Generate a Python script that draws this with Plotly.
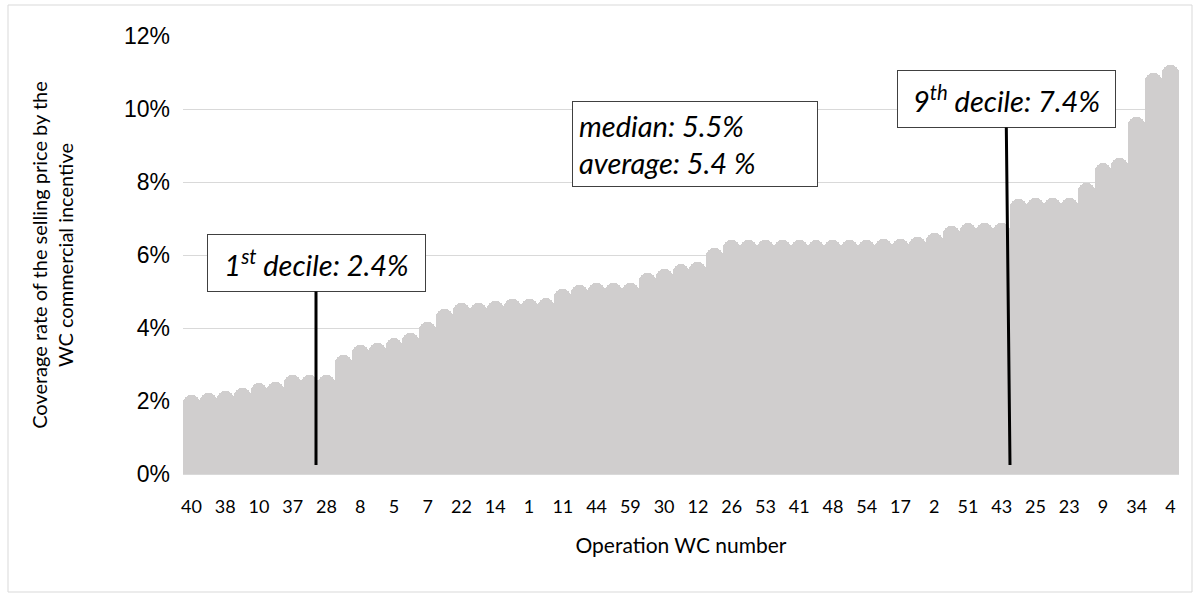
import plotly.graph_objects as go

# Coverage rate per operation (sorted ascending), in %
values_pct = [2.16, 2.23, 2.28, 2.35, 2.50, 2.53, 2.71, 2.71, 2.71, 3.26,
              3.53, 3.58, 3.72, 3.85, 4.17, 4.51, 4.69, 4.69, 4.75, 4.79,
              4.80, 4.82, 5.07, 5.18, 5.24, 5.24, 5.23, 5.52, 5.63, 5.74,
              5.82, 6.18, 6.40, 6.40, 6.40, 6.40, 6.40, 6.41, 6.41, 6.41,
              6.41, 6.43, 6.45, 6.48, 6.61, 6.79, 6.87, 6.87, 6.88, 7.53,
              7.55, 7.55, 7.55, 7.96, 8.51, 8.65, 9.79, 11.0, 11.2]
values = [v / 100 for v in values_pct]
positions = list(range(len(values)))

# Shown x tick labels (every second operation)
tick_labels = ["40", "38", "10", "37", "28", "8", "5", "7", "22", "14",
               "1", "11", "44", "59", "30", "12", "26", "53", "41", "48",
               "54", "17", "2", "51", "43", "25", "23", "9", "34", "4"]
tick_positions = positions[::2]

y_ticks = [0, 0.02, 0.04, 0.06, 0.08, 0.10, 0.12]

FONT = "Lato"
fig = go.Figure()
fig.add_trace(go.Bar(
    x=positions, y=values,
    marker=dict(color="#D0CECE", line=dict(width=0), cornerradius=8),
    showlegend=False, hoverinfo="skip",
))

L, R, T, B = 183, 1179, 36, 474
W, H = 1200, 597

fig.update_layout(
    width=W, height=H,
    margin=dict(l=L, r=W - R, t=T, b=H - B),
    paper_bgcolor="white", plot_bgcolor="white",
    bargap=0,
    font=dict(family=FONT, color="#000000"),
    xaxis=dict(
        range=[-0.5, len(values) - 0.5],
        tickmode="array", tickvals=tick_positions, ticktext=tick_labels,
        tickfont=dict(family=FONT, size=18, color="#000000"),
        ticks="", showgrid=False, zeroline=False,
        showline=True, linecolor="#D9D9D9", linewidth=1,
        ticklabelstandoff=16,
        title=dict(text="Operation WC number", font=dict(family=FONT, size=21, color="#000000"), standoff=22),
    ),
    yaxis=dict(
        range=[0, 0.12], tickmode="array", tickvals=y_ticks,
        tickformat=".0%",
        tickfont=dict(family="Liberation Sans", size=23, color="#000000"),
        showgrid=True, gridcolor="#D9D9D9", gridwidth=1,
        zeroline=False, showline=False, ticks="",
        ticklabelstandoff=12,
        title=dict(text="Coverage rate of the selling price by the<br>WC commercial incentive",
                   font=dict(family=FONT, size=20, color="#000000"), standoff=44),
    ),
)

box_font = dict(family=FONT, size=29, color="#000000", style="italic")

def px_to_x(px):
    return (px - L) / ((R - L) / len(values)) - 0.5

def px_to_y(py):
    return (B - py) / (B - T) * 0.12

# 1st decile
fig.add_annotation(
    x=px_to_x(316), y=px_to_y(465), ax=px_to_x(316), ay=px_to_y(263),
    xref="x", yref="y", axref="x", ayref="y",
    text="1<sup>st</sup> decile: 2.4%", font=box_font,
    showarrow=True, arrowhead=0, arrowwidth=3, arrowcolor="#000000",
    bordercolor="#404040", borderwidth=1, borderpad=6, bgcolor="white",
    width=205, height=44,
)
# median / average
fig.add_annotation(
    x=px_to_x(695), y=px_to_y(144), xref="x", yref="y",
    text="median: 5.5%<br>average: 5.4 %", font=box_font, align="left",
    showarrow=False, bordercolor="#404040", borderwidth=1, borderpad=6,
    bgcolor="white", width=232, height=72,
)
# 9th decile
fig.add_annotation(
    x=px_to_x(1010), y=px_to_y(465), ax=px_to_x(1006), ay=px_to_y(99),
    xref="x", yref="y", axref="x", ayref="y",
    text="9<sup>th</sup> decile: 7.4%", font=box_font,
    showarrow=True, arrowhead=0, arrowwidth=3, arrowcolor="#000000",
    bordercolor="#404040", borderwidth=1, borderpad=6, bgcolor="white",
    width=205, height=44,
)

# outer chart frame
fig.add_shape(type="rect", xref="paper", yref="paper",
              x0=(8 - L) / (R - L), x1=(1192 - L) / (R - L),
              y0=(B - 592) / (B - T), y1=(B - 5) / (B - T),
              line=dict(color="#D9D9D9", width=1), fillcolor="rgba(0,0,0,0)", layer="below")

fig.write_html("out.html", config={"displayModeBar": False},
               post_script="document.body.style.margin='0';")
